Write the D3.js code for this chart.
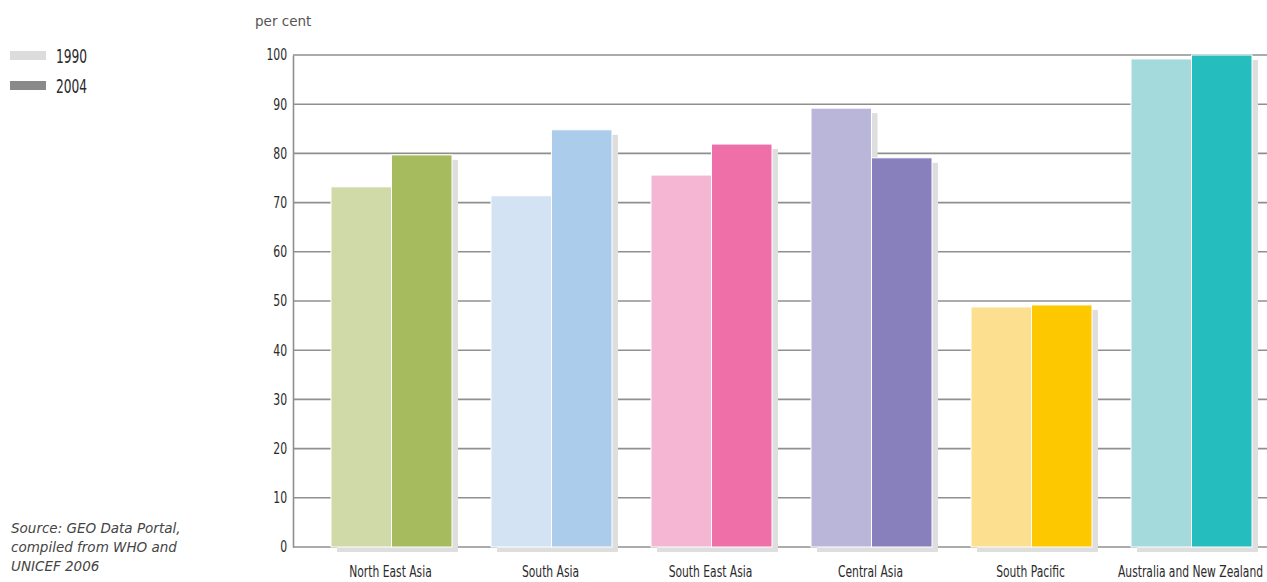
<!DOCTYPE html>
<html><head><meta charset="utf-8">
<script src="https://cdn.jsdelivr.net/npm/d3@7"></script>
<style>body{margin:0;background:#fff}svg{display:block}</style>
</head><body>
<svg id="c" width="1267" height="582"></svg>
<script>
const categories = ["North East Asia","South Asia","South East Asia","Central Asia","South Pacific","Australia and New Zealand"];
const series = ["1990","2004"];
const values1990 = [73.2, 71.4, 75.6, 89.2, 48.8, 99.2];
const values2004 = [79.7, 84.8, 81.9, 79.1, 49.2, 100];
const colors1990 = ["#cfdaa8","#d3e3f4","#f5b6d3","#bab6da","#fde08f","#a4dadc"];
const colors2004 = ["#a5bb5e","#abcdeb","#ef6fa8","#8880bc","#fec800","#25bdbd"];
const legendColors = ["#dcdcdc","#8a8a8a"];
const yTicks = [0,10,20,30,40,50,60,70,80,90,100];

const svg = d3.select("#c");
const condensed = "'DejaVu Sans Condensed','DejaVu Sans',sans-serif";
const y = d3.scaleLinear().domain([0,100]).range([547,55]);
const x0 = d3.scaleBand().domain(categories).range([311,1271]).paddingInner(0).paddingOuter(0);
const x1 = d3.scaleBand().domain(series).range([20,141]);

// grid
svg.append("g").selectAll("line").data(yTicks).join("line")
  .attr("x1",293).attr("x2",1267).attr("y1",d=>y(d)).attr("y2",d=>y(d))
  .attr("stroke","#8f8f8f").attr("stroke-width",1.6);
// axis
const axis = d3.axisLeft(y).tickValues(yTicks).tickSize(0).tickPadding(7.5);
const ag = svg.append("g").attr("transform","translate(293,0)").call(axis);
ag.select(".domain").attr("stroke","#8f8f8f").attr("stroke-width",1.6);
ag.selectAll("text").attr("font-family",condensed).attr("font-size",15.5).attr("fill","#2a2a2a")
  .attr("transform","scale(0.78,1)");

const data = categories.map((c,i)=>({c,i,v:[values1990[i],values2004[i]]}));
const groups = svg.append("g").selectAll("g").data(data).join("g")
  .attr("transform",d=>`translate(${x0(d.c)},0)`);
// bottom shadow
groups.append("rect").attr("x",x1("1990")+6).attr("y",y(0)).attr("width",x1.bandwidth()*2).attr("height",5).attr("fill","#dedede");
// per-bar shadows
groups.selectAll("rect.sh").data(d=>d.v.map((v,k)=>({v,k,i:d.i}))).join("rect").attr("class","sh")
  .attr("x",d=>x1(series[d.k])+6).attr("y",d=>y(d.v)+5).attr("width",x1.bandwidth()).attr("height",d=>y(0)-y(d.v))
  .attr("fill","#dedede");
groups.selectAll("rect.bar").data(d=>d.v.map((v,k)=>({v,k,i:d.i}))).join("rect").attr("class","bar")
  .attr("x",d=>x1(series[d.k])).attr("y",d=>y(d.v)).attr("width",x1.bandwidth()).attr("height",d=>y(0)-y(d.v))
  .attr("fill",d=>d.k===0?colors1990[d.i]:colors2004[d.i]).attr("stroke","#fff").attr("stroke-width",1);
// x labels
groups.append("text").attr("transform",`translate(${x1("1990")+x1.bandwidth()-1},577) scale(0.77,1)`).attr("text-anchor","middle")
  .attr("font-family",condensed).attr("font-size",15.5).attr("fill","#2a2a2a").text(d=>d.c);

// per cent
svg.append("text").attr("x",255).attr("y",26).attr("font-family","'DejaVu Sans',sans-serif").attr("font-size",13.5).attr("fill","#555").text("per cent");

// legend
const lg = svg.append("g").selectAll("g").data(series).join("g").attr("transform",(d,i)=>`translate(10,${51+i*30})`);
lg.append("rect").attr("width",36).attr("height",9).attr("fill",(d,i)=>legendColors[i]);
lg.append("text").attr("transform","translate(46,12) scale(0.68,1)").attr("font-family",condensed).attr("font-size",20).attr("fill","#2a2a2a").text(d=>d);

// source
const src = ["Source: GEO Data Portal,","compiled from WHO and","UNICEF 2006"];
svg.append("g").selectAll("text").data(src).join("text").attr("x",11).attr("y",(d,i)=>533+i*19)
  .attr("font-family","'DejaVu Sans',sans-serif").attr("font-style","italic").attr("font-size",13.5).attr("fill","#444").text(d=>d);
</script>
</body></html>
